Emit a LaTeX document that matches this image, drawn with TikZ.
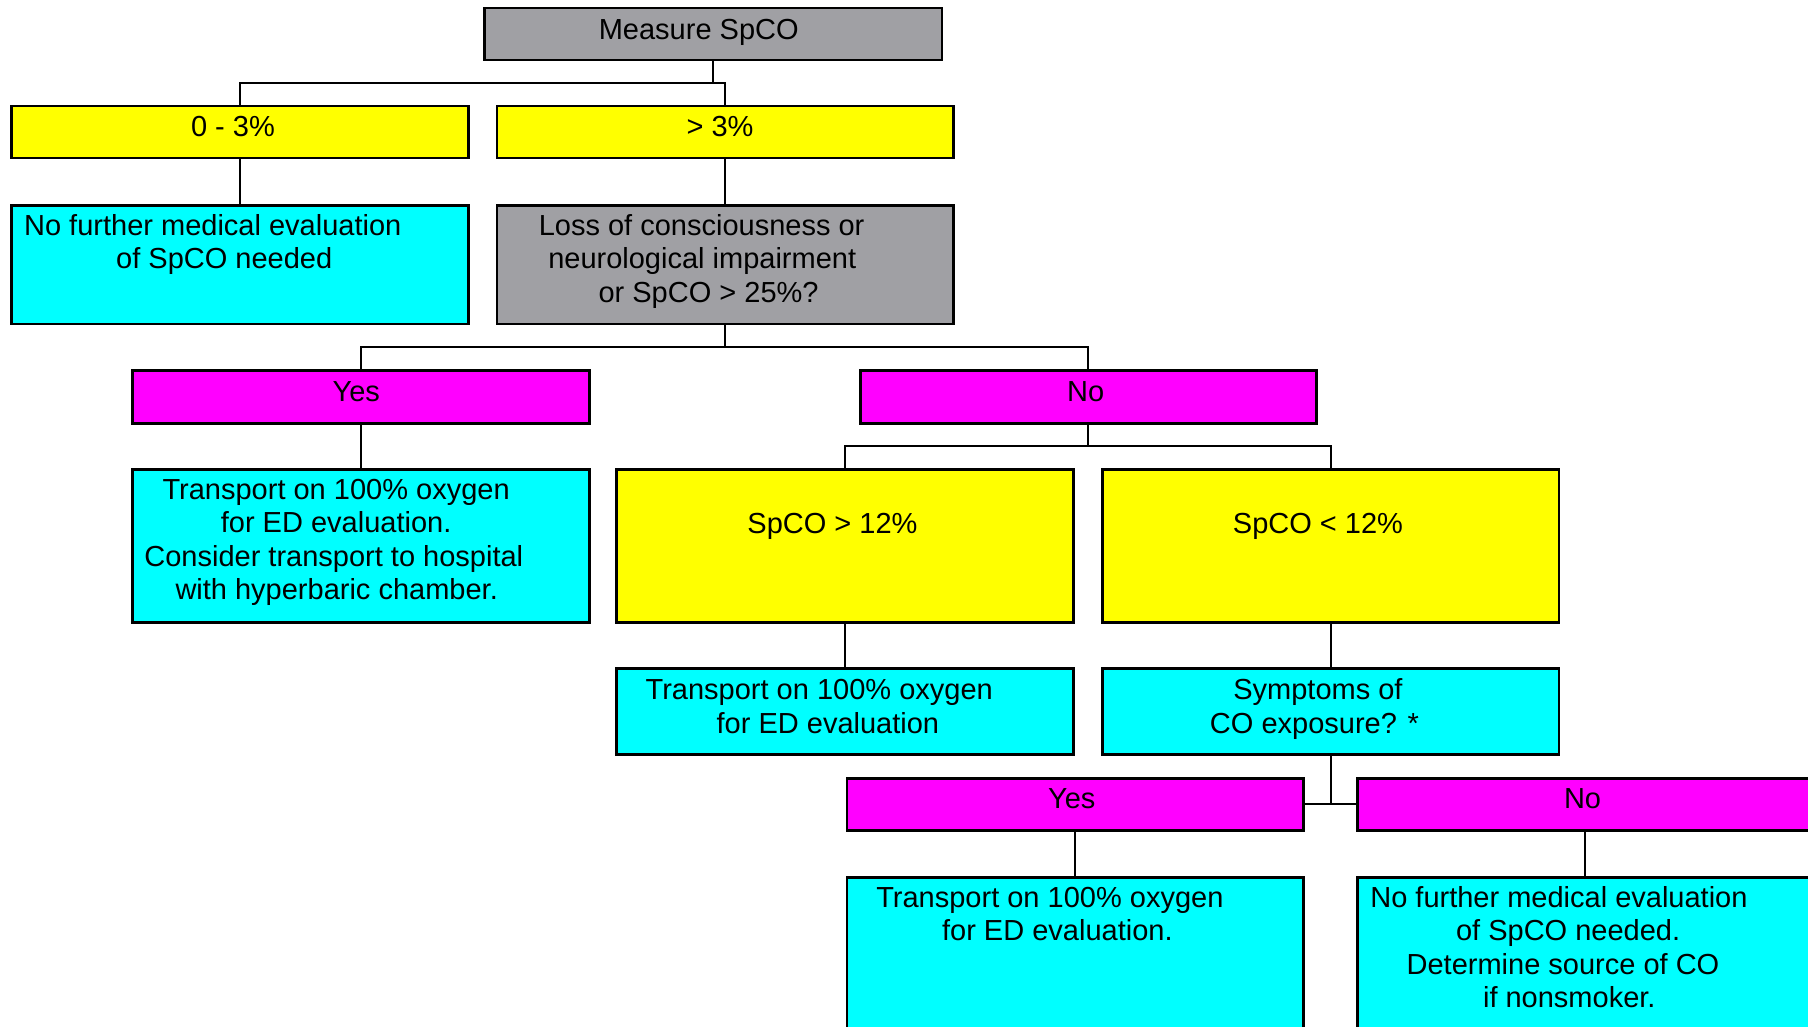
\documentclass[tikz,border=0pt]{standalone}
\usepackage{fontspec}
\setmainfont{Liberation Sans}
\definecolor{boxgray}{RGB}{160,160,164}
\definecolor{boxyellow}{RGB}{255,255,0}
\definecolor{boxcyan}{RGB}{0,255,255}
\definecolor{boxmagenta}{RGB}{255,0,255}
\tikzset{
  box/.style={draw=black, line width=1.4pt, inner sep=0pt, outer sep=0pt, minimum width=228.3pt},
  gbox/.style={box, fill=boxgray},
  ybox/.style={box, fill=boxyellow},
  cbox/.style={box, fill=boxcyan},
  mbox/.style={box, fill=boxmagenta},
  txt/.style={anchor=base, inner sep=0pt, font=\fontsize{14.5}{16.7}\selectfont},
  conn/.style={draw=black, line width=1pt}
}
\begin{document}
\begin{tikzpicture}[x=0.5765pt, y=-0.5765pt]
\useasboundingbox (0,0) rectangle (1568,890);
\fill[white] (0,0) rectangle (1568,890);

% boxes
\node[gbox, minimum width=228.9pt, minimum height=25.94pt] (measure) at (618.5,29.5) {};
\node[ybox, minimum height=25.94pt] (low) at (208,114.5) {};
\node[ybox, minimum height=25.94pt] (high) at (629,114.5) {};
\node[cbox, minimum height=59.4pt] (nf1) at (208,229.5) {};
\node[gbox, minimum height=59.4pt] (loss) at (629,229.5) {};
\node[mbox, minimum height=26.5pt] (yes1) at (313,344) {};
\node[mbox, minimum height=26.5pt] (no1) at (944,344) {};
\node[cbox, minimum height=76.7pt] (tr1) at (313,473.5) {};
\node[ybox, minimum height=76.7pt] (gt12) at (733,473.5) {};
\node[ybox, minimum height=76.7pt] (lt12) at (1154,473.5) {};
\node[cbox, minimum height=42.7pt] (tr2) at (733,617) {};
\node[cbox, minimum height=42.7pt] (sym) at (1154,617) {};
\node[mbox, minimum height=25.94pt] (yes2) at (932.5,697.5) {};
\node[mbox, minimum height=25.94pt] (no2) at (1375,697.5) {};
\node[cbox, minimum height=83pt] (tr3) at (932.5,833) {};
\node[cbox, minimum height=83pt] (nf2) at (1375,833) {};

% connectors
\draw[conn] (measure.south) -- ++(0,20) coordinate (bus1);
\draw[conn] (low.north) |- (bus1) -| (high.north);
\draw[conn] (low.south) -- (nf1.north);
\draw[conn] (high.south) -- (loss.north);
\draw[conn] (loss.south) -- ++(0,20) coordinate (bus2);
\draw[conn] (yes1.north) |- (bus2) -| (no1.north);
\draw[conn] (yes1.south) -- (tr1.north);
\draw[conn] (no1.south) -- ++(0,20) coordinate (bus3);
\draw[conn] (gt12.north) |- (bus3) -| (lt12.north);
\draw[conn] (gt12.south) -- (tr2.north);
\draw[conn] (lt12.south) -- (sym.north);
\draw[conn] (sym.south) -- (sym.south |- yes2.east);
\draw[conn] (yes2.east) -- (no2.west);
\draw[conn] (yes2.south) -- (tr3.north);
\draw[conn] (no2.south) -- (nf2.north);

% texts
\node[txt] (t-measure) at (606,34) {Measure SpCO};
\node[txt] (t-low) at (202,118) {0 - 3\%};
\node[txt] (t-high) at (624.5,118) {> 3\%};
\node[txt] (t-nf1a) at (184.5,204) {No further medical evaluation};
\node[txt] (t-nf1b) at (194.5,233) {of SpCO needed};
\node[txt] (t-lossa) at (608.5,204) {Loss of consciousness or};
\node[txt] (t-lossb) at (609,233) {neurological impairment};
\node[txt] (t-lossc) at (614.5,262) {or SpCO > 25\%?};
\node[txt] (t-yes1) at (309,348) {Yes};
\node[txt] (t-no1) at (941.5,348) {No};
\node[txt] (t-tr1a) at (291.5,433) {Transport on 100\% oxygen};
\node[txt] (t-tr1b) at (291.5,462) {for ED evaluation.};
\node[txt] (t-tr1c) at (289.5,491) {Consider transport to hospital};
\node[txt] (t-tr1d) at (292,520) {with hyperbaric chamber.};
\node[txt] (t-gt12) at (722,463) {SpCO > 12\%};
\node[txt] (t-lt12) at (1143,463) {SpCO < 12\%};
\node[txt] (t-tr2a) at (710.5,607) {Transport on 100\% oxygen};
\node[txt] (t-tr2b) at (718,636) {for ED evaluation};
\node[txt] (t-syma) at (1143,607) {Symptoms of};
\node[txt] (t-symb) at (1140,636) {CO exposure? *};
\node[txt] (t-yes2) at (929.5,701) {Yes};
\node[txt] (t-no2) at (1372.5,701) {No};
\node[txt] (t-tr3a) at (910.5,787) {Transport on 100\% oxygen};
\node[txt] (t-tr3b) at (917,816) {for ED evaluation.};
\node[txt] (t-nf2a) at (1352,787) {No further medical evaluation};
\node[txt] (t-nf2b) at (1360,816) {of SpCO needed.};
\node[txt] (t-nf2c) at (1355.5,845) {Determine source of CO};
\node[txt] (t-nf2d) at (1361,874) {if nonsmoker.};
\end{tikzpicture}
\end{document}
